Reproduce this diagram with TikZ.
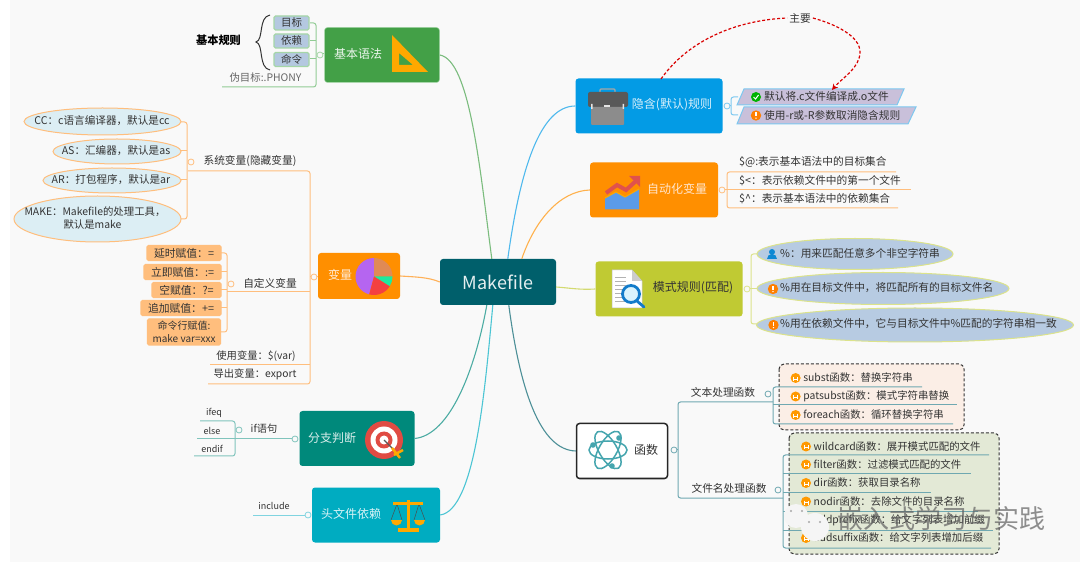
\documentclass[tikz,border=0pt]{standalone}
\usepackage{fontspec}
\setmainfont{Noto Sans CJK SC}
\usetikzlibrary{arrows.meta,shapes.geometric,calc}
\definecolor{bgc}{HTML}{F9F9F9}
\definecolor{grn}{HTML}{43A047}
\definecolor{grnl}{HTML}{A5D6A7}
\definecolor{org}{HTML}{FF8F00}
\definecolor{orgl}{HTML}{FFBE7D}
\definecolor{blu}{HTML}{039BE5}
\definecolor{blul}{HTML}{7CC8F0}
\definecolor{oli}{HTML}{C0CA33}
\definecolor{olil}{HTML}{DCE38B}
\definecolor{tea}{HTML}{00897B}
\definecolor{teal2}{HTML}{80C4BC}
\definecolor{cya}{HTML}{00ACC1}
\definecolor{cyal}{HTML}{80D4E0}
\definecolor{dk}{HTML}{005F6B}
\definecolor{fun}{HTML}{5F9EA8}
\definecolor{txt}{HTML}{333333}
\definecolor{cellf}{HTML}{DCEEF4}
\definecolor{gfill}{HTML}{B4C8E0}
\definecolor{purp}{HTML}{C9C0DA}
\definecolor{pbl}{HTML}{B7CBE2}
\definecolor{fil1}{HTML}{FBEEE6}
\definecolor{fil2}{HTML}{E3E9D6}
\definecolor{gold}{HTML}{FFA800}
\definecolor{tgt}{HTML}{E04B43}
\definecolor{atom}{HTML}{45A5AE}
\definecolor{piep}{HTML}{B565F0}
\definecolor{pieb}{HTML}{E08A55}
\definecolor{pieg}{HTML}{1DE9A0}
\definecolor{pier}{HTML}{F44040}
\definecolor{chb}{HTML}{5B9BE8}
\definecolor{chr}{HTML}{E0524C}
\tikzset{
 x=1pt,y=-1pt,
 main/.style={rounded corners=3pt,minimum height=0pt,inner sep=0pt},
 mlab/.style={text=white,font=\fontsize{12}{14}\selectfont,inner sep=0pt},
 lab/.style={text=txt,font=\fontsize{10.7}{13}\selectfont,inner sep=0pt},
 small/.style={text=txt,font=\fontsize{9}{11}\selectfont,inner sep=0pt},
 ell/.style={ellipse,draw=orgl,line width=1pt,fill=cellf,inner sep=0pt},
 elltxt/.style={text=txt,font=\fontsize{10.6}{13}\selectfont,inner sep=0pt},
 tag/.style={draw=orgl,line width=1.2pt,fill=orgl,rounded corners=1.5pt,text=txt,font=\fontsize{10.8}{13}\selectfont,inner sep=0pt,align=center},
 gtag/.style={draw=grnl,line width=1.2pt,fill=gfill,rounded corners=1.5pt,text=txt,font=\fontsize{10.5}{12}\selectfont,inner sep=0pt},
 lnk/.style={line width=1pt,rounded corners=2.5pt},
 knob/.style={circle,draw,fill=bgc,line width=.8pt,minimum size=6pt,inner sep=0pt},
 trunk/.style={line width=1.1pt},
 para/.style={draw=blul,fill=purp,line width=1pt},
 pell/.style={ellipse,draw=olil,fill=pbl,line width=1pt,inner sep=0pt},
 boxlab/.style={text=txt,inner sep=0pt,anchor=west,font=\fontsize{10.7}{13}\selectfont},
 funlab/.style={text=txt,inner sep=0pt,anchor=west,font=\fontsize{10.4}{12}\selectfont},
}
\newcommand{\okicon}[1]{\fill[green!70!black] (#1) circle (5); \draw[white,line width=1pt] ($(#1)+(-2.5,0)$)--++(2,2)--++(3,-4);}
\newcommand{\warnicon}[1]{\fill[orange] (#1) circle (5.2); \fill[white] ($(#1)+(-.7,-3)$) rectangle ($(#1)+(.7,1)$); \fill[white] ($(#1)+(0,2.6)$) circle (.8);}
\newcommand{\hicon}[1]{\fill[orange!80!yellow] (#1) circle (5); \draw[white,line width=.7pt] ($(#1)+(-2,-1)$)--++(0,4) ($(#1)+(2,-1)$)--++(0,4) ($(#1)+(-2,1)$)--++(4,0);}
\begin{document}
\begin{tikzpicture}
\useasboundingbox (0,0) rectangle (1080,569);
\fill[white] (0,0) rectangle (1080,569);
\fill[bgc] (10,0) rectangle (1080,562);

% centre
\node[fill=dk,rounded corners=3pt,minimum width=116pt,minimum height=46pt,inner sep=0pt,text=white!90!dk,font=\fontsize{18}{20}\selectfont] (mk) at (498,282) {Makefile};

% 基本语法
\node[fill=grn,draw=grnl,line width=.5pt,main,minimum width=115pt,minimum height=55pt] (jb) at (382,55) {};
\node[mlab,text=white!90!grn] (jbt) at (358,54) {基本语法};
\fill[gold,even odd rule] (392,35) -- (392,72) -- (428,72) -- cycle (399,53) -- (399,65) -- (413,65) -- cycle;
\draw[lnk,grnl!80!grn] (320,54) -- (324,54);
\draw[lnk,grnl!80!grn] (310,23) -- (316,23) -- (316,87) -- (222,87);
\draw[lnk,grnl!80!grn] (310,41) -- (316,41);
\draw[lnk,grnl!80!grn] (310,59) -- (316,59);
\node[knob,draw=grnl] at (320,55) {};
\node[gtag] (g1) at (291.5,23) {\parbox[c][14pt][c]{35pt}{\centering 目标}};
\node[gtag] (g2) at (291.5,41) {\parbox[c][14pt][c]{35pt}{\centering 依赖}};
\node[gtag] (g3) at (291.5,59.5) {\parbox[c][14pt][c]{35pt}{\centering 命令}};
\draw[line width=1pt,black!80] (270,15) .. controls (258,17) and (264,40) .. (256,42) .. controls (264,44) and (258,68) .. (270,70);
\node[font=\fontsize{11.2}{13}\selectfont\bfseries,text=black,inner sep=0pt] (gz) at (218.5,40) {基本规则};
\node[lab,font=\fontsize{10.4}{12}\selectfont,text=gray!80!black] (wm) at (265.5,78) {伪目标:.PHONY};

% 变量
\node[fill=org,main,minimum width=82pt,minimum height=46pt] (bl) at (359,276) {};
\node[mlab,text=white!85!orange] at (340,275) {变量};
\fill[piep] (374,276.5) -- (374,258) arc (-90:-255:18.5) -- cycle;
\fill[pieb] (374,276.5) -- (374,258) arc (-90:0:18.5) -- cycle;
\fill[pieg] (374,276.5) -- (392.5,276.5) arc (0:32:18.5) -- cycle;
\fill[pier] (374,276.5) -- ++(32:18.5) arc (32:105:18.5) -- cycle;
% var links
\draw[lnk,orgl] (188,171) -- (310,171) -- (310,384) -- (208,384);
\draw[lnk,orgl] (310,277) -- (318,277);
\draw[lnk,orgl] (227,292) -- (310,292);
\draw[lnk,orgl] (210,365) -- (310,365);
\draw[lnk,orgl] (181,122) -- (187,122) -- (187,219) -- (181,219);
\draw[lnk,orgl] (181,151) -- (187,151);
\draw[lnk,orgl] (181,180) -- (187,180);
\draw[lnk,orgl] (221,253) -- (227,253) -- (227,332) -- (221,332);
\draw[lnk,orgl] (221,272) -- (227,272);
\draw[lnk,orgl] (221,290) -- (227,290);
\draw[lnk,orgl] (221,308) -- (227,308);
\node[knob,draw=orgl] at (191,162) {};
\node[knob,draw=orgl] at (231,284) {};
\node[knob,draw=orgl] at (314,277) {};
\node[lab] (sv) at (250,161) {系统变量(隐藏变量)};
\node[lab] (zv) at (270,283) {自定义变量};
\node[ell,minimum width=157pt,minimum height=27pt] (e1) at (102.5,121.5) {};
\node[ell,minimum width=128pt,minimum height=25pt] (e2) at (117,151.5) {};
\node[ell,minimum width=138pt,minimum height=25pt] (e3) at (112,180.5) {};
\node[ell,minimum width=167pt,minimum height=46pt] (e4) at (97.5,219) {};
\node[elltxt] (e1t) at (102,121) {CC：c语言编译器，默认是cc};
\node[elltxt] (e2t) at (116,151) {AS：汇编器，默认是as};
\node[elltxt] (e3t) at (111,179.5) {AR：打包程序，默认是ar};
\node[elltxt,font=\fontsize{10.4}{13}\selectfont,align=left] (e4t) at (95,218.5) {MAKE：Makefile的处理工具，\\\hspace*{39pt}默认是make};
\node[tag,minimum width=74pt,minimum height=15pt] (t1) at (184,253) {延时赋值：=};
\node[tag,minimum width=77pt,minimum height=15pt] (t2) at (182.5,272) {立即赋值：:=};
\node[tag,minimum width=69pt,minimum height=15pt] (t3) at (186.5,290) {空赋值：?=};
\node[tag,minimum width=80pt,minimum height=15pt] (t4) at (181,308) {追加赋值：+=};
\node[tag,minimum width=73pt,minimum height=26pt,font=\fontsize{10}{12.5}\selectfont] (t5) at (184,332) {命令行赋值:\\make var=xxx};
\node[lab,font=\fontsize{10.3}{12}\selectfont] (uv) at (256,356) {使用变量：\$(var)};
\node[lab,font=\fontsize{10.3}{12}\selectfont] (ev) at (255,374) {导出变量：export};

% 分支判断
\node[fill=tea,main,minimum width=115pt,minimum height=55pt] (fz) at (357,438.5) {};
\node[mlab,text=white!85!tea] at (332,438) {分支判断};
\fill[tgt] (384,440) circle (19);
\fill[white] (384,440) circle (13.5);
\fill[tgt] (384,440) circle (8.5);
\fill[white] (384,440) circle (4.5);
\draw[gray!70!black,line width=1.3pt] (384,440) -- (394,450);
\draw[gold,line width=2.5pt] (392,448) -- (400,458) (394,455) -- (403,450);
\draw[lnk,teal2] (200,421) -- (235,421) -- (235,456) -- (194,456);
\draw[lnk,teal2] (197,439) -- (295,439);
\node[knob,draw=teal2] at (239,430) {};
\node[knob,draw=teal2] at (295,439) {};
\node[small] (n1) at (214,413) {ifeq};
\node[small] (n2) at (212,431) {else};
\node[small] (n3) at (212,449) {endif};
\node[lab,font=\fontsize{10.2}{12}\selectfont] (n4) at (264,429) {if语句};

% 头文件依赖
\node[fill=cya,main,minimum width=128pt,minimum height=55pt] (tw) at (376,515) {};
\node[mlab,text=white!85!cya] at (351,514) {头文件依赖};
\draw[gray!60!black,line width=.5pt] (397,504) -- (391,520) (397,504) -- (402,520) (419,504) -- (414,520) (419,504) -- (425,520);
\fill[gold] (406.5,500) rectangle (409.5,528);
\fill[gold] (398,528) rectangle (419,532);
\fill[gold] (393,502) rectangle (423,505);
\fill[gold] (391,520) arc (180:0:5.5) -- cycle;
\fill[gold] (414,520) arc (180:0:5.5) -- cycle;
\draw[lnk,cyal] (253,515) -- (308,515);
\node[knob,draw=cyal] at (308,515) {};
\node[small] (inc) at (274,506) {include};

% 隐含规则
\node[fill=blu,main,minimum width=147pt,minimum height=55pt] (yh) at (649,106) {};
\node[mlab,text=white!85!blu] at (672,105) {隐含(默认)规则};
\draw[gray!70,line width=1.2pt,rounded corners=1pt] (600,92) -- (600,89) -- (615,89) -- (615,92);
\fill[black!65,rounded corners=2pt] (588,92) rectangle (628,107);
\fill[gray!90,rounded corners=1pt] (591,107) rectangle (624,125);
\fill[white!80!gray] (604,105) rectangle (610,107);
\fill[white!80!gray] (591,104) rectangle (592.5,109) (622.5,104) rectangle (624,109);
\draw[lnk,blul] (738,97) -- (731,97) -- (731,115) -- (738,115);
\draw[lnk,blul] (724,106) -- (731,106);
\node[knob,draw=blul] at (727,106) {};
\draw[para] (737,105) -- (744,89) -- (904,89) -- (897,105) -- cycle;
\draw[para] (737,124) -- (744,107) -- (916,107) -- (908,124) -- cycle;
\okicon{756,97}
\warnicon{756,115.5}
\node[boxlab] (p1) at (764,96) {默认将.c文件编译成.o文件};
\node[boxlab] (p2) at (764,115) {使用-r或-R参数取消隐含规则};
\node[boxlab,anchor=center,fill=bgc,inner xsep=2pt] (zy) at (800,18) {主要};
\coordinate (yhtop) at (661,79);
\coordinate (p1top) at (832,90);
\draw[red!85!black,densely dashed,line width=1.2pt] (yhtop) .. controls (690,38) and (740,20) .. (zy.west);
\draw[red!85!black,densely dashed,line width=1.2pt,-{Stealth[length=6pt,width=6pt]}] (zy.east) .. controls (835,24) and (860,36) .. (860,52) .. controls (860,68) and (842,78) .. (p1top);

% 自动化变量
\node[fill=org,main,minimum width=128pt,minimum height=55pt] (zd) at (654,190) {};
\node[mlab,text=white!80!orange] at (677,189) {自动化变量};
\fill[chb] (605,198) -- (616,192) -- (625,197) -- (639,189) -- (639,209.5) -- (605,209.5) -- cycle;
\draw[gold,line width=1pt] (605,198) -- (616,192) -- (625,197) -- (639,189);
\draw[chr,line width=4pt] (606,193) -- (617,185) -- (626,190) -- (636,181);
\fill[chr] (629,176) -- (640,176) -- (640,187) -- cycle;
\draw[lnk,orgl] (896,172) -- (727,172) -- (727,208) -- (898,208);
\draw[lnk,orgl] (722,190) -- (911,190);
\node[knob,draw=orgl] at (722,190) {};
\node[boxlab] at (739,162) {\$@:表示基本语法中的目标集合};
\node[boxlab] at (739,180.5) {\$<：表示依赖文件中的第一个文件};
\node[boxlab] at (739,199) {\$\^{}：表示基本语法中的依赖集合};

% 模式规则
\node[fill=oli,main,minimum width=147pt,minimum height=55pt] (ms) at (669,289) {};
\node[lab,font=\fontsize{12}{14}\selectfont] at (693,288) {模式规则(匹配)};
\fill[white] (612,270) -- (632,270) -- (642,281) -- (642,308) -- (612,308) -- cycle;
\draw[gray!50,line width=.5pt] (612,270) -- (632,270) -- (642,281) -- (642,308) -- (612,308) -- cycle;
\fill[gray!40] (632,270) -- (642,281) -- (632,281) -- cycle;
\foreach \yy in {277,281,285,289,293,297,301}{\draw[gray!60,line width=.8pt] (615,\yy) -- (626,\yy);}
\draw[cyan!60!blue,line width=2.8pt,fill=cyan!15] (631,294) circle (8.5);
\draw[cyan!60!blue,line width=2.8pt,line cap=round] (637,301) -- (644,307);
\draw[lnk,olil] (757,254) -- (751,254) -- (751,324) -- (757,324);
\draw[lnk,olil] (747,289) -- (757,289);
\node[knob,draw=olil] at (747,289) {};
\node[pell,minimum width=196pt,minimum height=31pt] (m1) at (855,254) {};
\node[pell,minimum width=252pt,minimum height=32pt] (m2) at (883,288.5) {};
\node[pell,minimum width=317pt,minimum height=34pt] (m3) at (915,325) {};
\fill[cyan!70!blue] (772,252) circle (3);
\fill[cyan!70!blue] (767,259) arc (180:360:5) -- cycle;
\warnicon{773,289}
\warnicon{773.5,325}
\node[boxlab] at (780,253.5) {\%：用来匹配任意多个非空字符串};
\node[boxlab] at (780,287.5) {\%用在目标文件中，将匹配所有的目标文件名};
\node[boxlab] at (780,324) {\%用在依赖文件中，它与目标文件中\%匹配的字符串相一致};

% 函数
\node[fill=white,draw=black!85,line width=1.5pt,rounded corners=3pt,minimum width=91pt,minimum height=55pt,inner sep=0pt] (hs) at (622,451) {};
\node[mlab,text=txt] at (646,450) {函数};
\begin{scope}[atom,line width=1.5pt]
\draw[rotate around={30:(608,450)}] (608,450) ellipse (9 and 21);
\draw[rotate around={-30:(608,450)}] (608,450) ellipse (9 and 21);
\draw[rotate around={90:(608,450)}] (608,450) ellipse (9 and 19);
\fill (593,445) circle (2.8) (619,438) circle (2.8) (612,466) circle (2.8);
\end{scope}
\draw[rounded corners=5pt,draw=black!80,densely dashed,line width=1pt,fill=fil1] (779,364) rectangle (964,430);
\draw[rounded corners=5pt,draw=black!80,densely dashed,line width=1pt,fill=fil2] (789,433) rectangle (999,554);
\draw[lnk,fun!90] (773,402) -- (678,402) -- (678,498) -- (783,498);
\draw[lnk,fun!90] (672,450) -- (678,450);
\node[knob,draw=fun!90] at (674,450) {};
\node[knob,draw=fun!90] at (768,394) {};
\node[knob,draw=fun!90] at (778,490) {};
\node[lab] (wb) at (723,392.5) {文本处理函数};
\node[lab] (wj) at (729,488.5) {文件名处理函数};
\draw[lnk,fun!90] (922,387) -- (773,387) -- (773,424) -- (953,424);
\draw[lnk,fun!90] (773,405) -- (957,405);
\draw[lnk,fun!90] (989,455) -- (783,455) -- (783,548) -- (991,548);
\draw[lnk,fun!90] (783,474) -- (971,474);
\draw[lnk,fun!90] (783,492) -- (931,492);
\draw[lnk,fun!90] (783,511) -- (978,511);
\draw[lnk,fun!90] (783,530) -- (993,530);
\foreach \p/\t/\q in {
 795.6/subst函数：替换字符串/378,
 795.6/patsubst函数：模式字符串替换/396.5,
 795.6/foreach函数：循环替换字符串/415,
 806/wildcard函数：展开模式匹配的文件/446.5,
 806/filter函数：过滤模式匹配的文件/464.5,
 806/dir函数：获取目录名称/483,
 806/nodir函数：去除文件的目录名称/501.5,
 806/addprefix函数：给文字列表增加前缀/520,
 806/addsuffix函数：给文字列表增加后缀/538}{
 \hicon{\p,\q}
 \node[funlab] at (\p+7.5,\q) {\t};
}

% trunks
\draw[trunk,grn!70] (jb.east) .. controls (470,60) and (480,170) .. ($(mk.north west)+(52,0)$);
\draw[trunk,orgl!70!org] (bl.east) .. controls (415,277) and (428,277) .. (mk.west);
\draw[trunk,tea!70] (fz.east) .. controls (450,435) and (475,370) .. ($(mk.south west)+(47,0)$);
\draw[trunk,cya!70] (tw.east) .. controls (475,510) and (485,390) .. ($(mk.south west)+(53,0)$);
\draw[trunk,blu!70] (yh.west) .. controls (540,106) and (520,170) .. ($(mk.north west)+(68,0)$);
\draw[trunk,org!70] (zd.west) .. controls (560,191) and (535,220) .. ($(mk.north west)+(82,0)$);
\draw[trunk,oli!70] (ms.west) .. controls (580,290) and (570,288) .. ($(mk.east)+(0,5)$);
\draw[trunk,dk!70] (hs.west) .. controls (540,450) and (520,390) .. ($(mk.south west)+(69,0)$);

% watermark
\fill[white!92!gray] (796,516) circle (12);
\fill[white!92!gray] (815,527) circle (14);
\foreach \a/\b in {791/511,802/511}{\fill[gray!70] (\a,\b) circle (1.2);}
\foreach \a/\b in {809/522,820/522}{\fill[gray!70] (\a,\b) circle (1.2);}
\node[text=gray!75!black,font=\fontsize{26}{28}\selectfont,inner sep=0pt,opacity=.7] (wm2) at (941,519) {嵌入式学习与实践};
\end{tikzpicture}
\end{document}
